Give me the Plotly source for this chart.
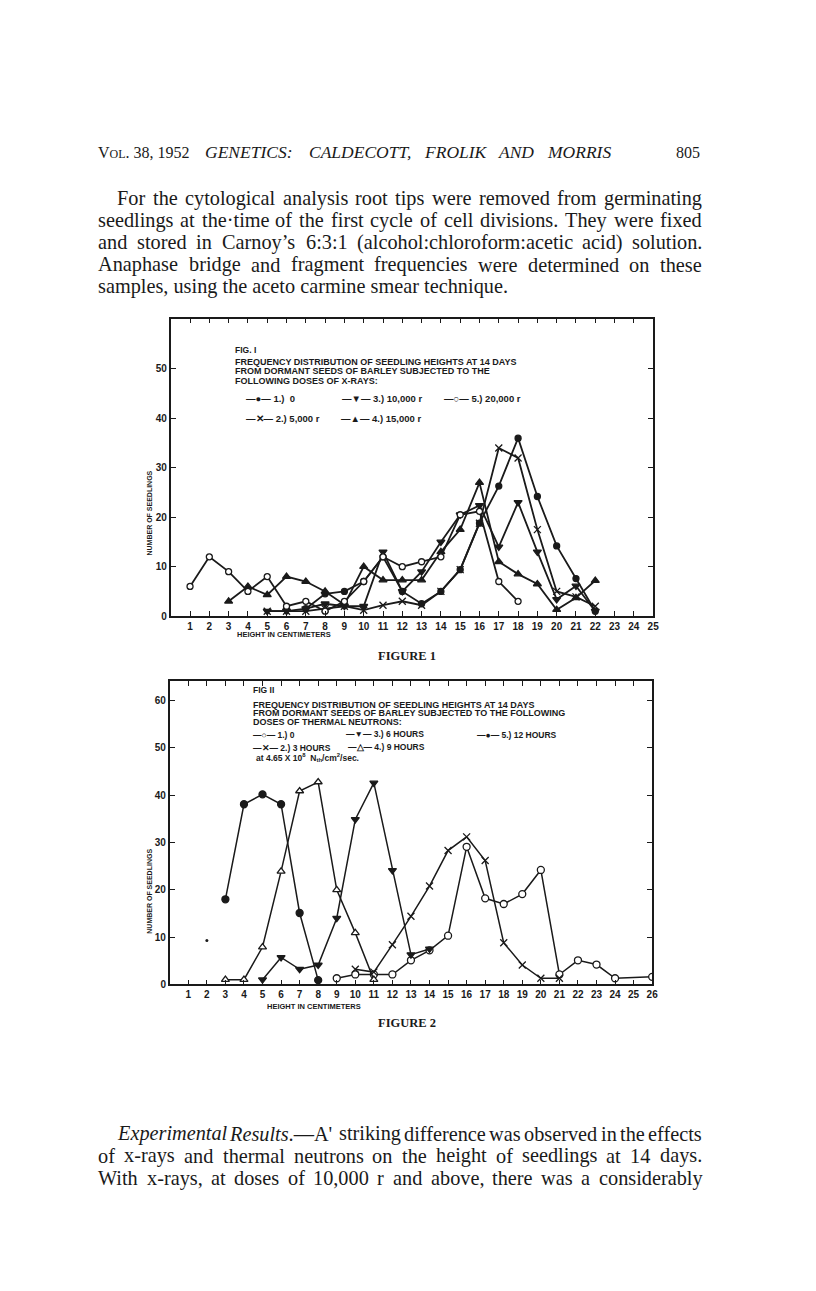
import plotly.graph_objects as go

# ---------------- Figure 1 data (x-rays) ----------------
f1_x_s1 = [7, 8, 9, 10, 11, 12, 13, 14, 15, 16, 17, 18, 19, 20, 21, 22]
f1_y_s1 = [1.5, 4.5, 5, 7, 12, 5, 2.5, 5, 9.4, 18.8, 26.3, 36, 24.2, 14.2, 7.6, 1]
f1_x_s2 = [5, 6, 7, 8, 9, 10, 11, 12, 13, 14, 15, 16, 17, 18, 19, 20, 21, 22]
f1_y_s2 = [1, 1, 1, 1.5, 2, 1.2, 2.2, 3, 2.2, 5, 9.4, 18.8, 34, 32, 17.5, 5, 3.9, 2]
f1_x_s3 = [5, 6, 7, 8, 9, 10, 11, 12, 13, 14, 15, 16, 17, 18, 19, 20, 21, 22]
f1_y_s3 = [1, 1, 1.5, 2.5, 2, 2, 13, 5, 9, 15, 20.5, 22.4, 14, 23, 13, 3.4, 6.1, 1]
f1_x_s4 = [3, 4, 5, 6, 7, 8, 9, 10, 11, 12, 13, 14, 15, 16, 17, 18, 19, 20, 21, 22]
f1_y_s4 = [3, 6, 4.3, 8, 7, 5, 2.3, 10, 7.3, 7.3, 7.3, 13, 17.5, 27, 11, 8.5, 6.5, 1.3, 3.7, 7.2]
f1_x_s5 = [1, 2, 3, 4, 5, 6, 7, 8, 9, 10, 11, 12, 13, 14, 15, 16, 17, 18]
f1_y_s5 = [6, 12, 9, 5, 8, 2, 3, 1, 3, 7, 12, 10, 11, 12, 20.5, 21.2, 7, 3]

# ---------------- Figure 2 data (thermal neutrons) ----------------
f2_x_s1 = [9, 10, 11, 12, 13, 14, 15, 16, 17, 18, 19, 20, 21, 22, 23, 24, 26]
f2_y_s1 = [1.3, 2.1, 2.1, 2.1, 5.1, 7.2, 10.3, 29.1, 18.2, 17, 19.1, 24.2, 2.1, 5.1, 4.2, 1.3, 1.6]
f2_x_s2 = [10, 11, 12, 13, 14, 15, 16, 17, 18, 19, 20, 21]
f2_y_s2 = [3.2, 2.6, 8.4, 14.4, 20.8, 28.3, 31.2, 26.2, 8.8, 4.1, 1.3, 1.3]
f2_x_s3 = [5, 6, 7, 8, 9, 10, 11, 12, 13, 14]
f2_y_s3 = [1.0, 5.7, 3.2, 4.1, 14.0, 34.9, 42.6, 24.1, 6.3, 7.5]
f2_x_s4 = [3, 4, 5, 6, 7, 8, 9, 10, 11]
f2_y_s4 = [1.0, 1.0, 7.9, 23.9, 40.9, 42.8, 20.0, 10.9, 1.0]
f2_x_s5 = [3, 4, 5, 6, 7, 8]
f2_y_s5 = [18.0, 38.1, 40.2, 38.1, 15.1, 0.9]
f2_x_dot = [2]
f2_y_dot = [9.3]

f1_ticks = list(range(1, 26))
f2_ticks = list(range(1, 27))
y1_ticks = [0, 10, 20, 30, 40, 50]
y2_ticks = [0, 10, 20, 30, 40, 50, 60]

W, H = 816, 1291
# plot-area pixel boxes [left, top, right, bottom]
P1 = (172, 320, 658, 619)
P2 = (171, 684, 657, 989)


def dom(box):
    l, t, r, b = box
    return [l / W, r / W], [1 - b / H, 1 - t / H]


fig = go.Figure()

BLK = "#1a1a1a"
TICKF = dict(family="Liberation Sans, Arial", size=10, color=BLK, weight="bold")


def add(xs, ys, sym, xa, ya, size=6, fill=True, lw=1.8):
    fig.add_trace(go.Scatter(
        x=xs, y=ys, mode="lines+markers", xaxis=xa, yaxis=ya,
        line=dict(color=BLK, width=lw),
        marker=dict(symbol=sym, size=size,
                    color=BLK if fill else "white",
                    line=dict(color=BLK, width=1.3)),
        showlegend=False, hoverinfo="skip"))


add(f1_x_s1, f1_y_s1, "circle", "x", "y", 6)
add(f1_x_s2, f1_y_s2, "x-thin-open", "x", "y", 7)
add(f1_x_s3, f1_y_s3, "triangle-down", "x", "y", 7)
add(f1_x_s4, f1_y_s4, "triangle-up", "x", "y", 7)
add(f1_x_s5, f1_y_s5, "circle", "x", "y", 6, fill=False)

add(f2_x_s1, f2_y_s1, "circle", "x2", "y2", 7, fill=False, lw=1.5)
add(f2_x_s2, f2_y_s2, "x-thin-open", "x2", "y2", 7, lw=1.5)
add(f2_x_s3, f2_y_s3, "triangle-down", "x2", "y2", 7, lw=1.5)
add(f2_x_s4, f2_y_s4, "triangle-up", "x2", "y2", 7, fill=False, lw=1.5)
add(f2_x_s5, f2_y_s5, "circle", "x2", "y2", 7, lw=1.5)
fig.add_trace(go.Scatter(x=f2_x_dot, y=f2_y_dot, mode="markers", xaxis="x2", yaxis="y2",
                         marker=dict(size=3, color=BLK), showlegend=False, hoverinfo="skip"))

xd1, yd1 = dom(P1)
xd2, yd2 = dom(P2)
axcommon = dict(showgrid=False, zeroline=False, showline=True, linecolor=BLK, linewidth=1.6,
                mirror="allticks", ticks="inside", ticklen=5, tickwidth=1.4, tickcolor=BLK,
                tickfont=TICKF)
fig.update_layout(
    width=W, height=H, margin=dict(l=0, r=0, t=0, b=0),
    paper_bgcolor="white", plot_bgcolor="white",
    xaxis=dict(domain=xd1, range=[0, 25.0], tickvals=f1_ticks, anchor="y", **axcommon),
    yaxis=dict(domain=yd1, range=[0, 60.2], tickvals=y1_ticks, anchor="x", **axcommon),
    xaxis2=dict(domain=xd2, range=[0, 26.0], tickvals=f2_ticks, anchor="y2", **axcommon),
    yaxis2=dict(domain=yd2, range=[0, 64.2], tickvals=y2_ticks, anchor="x2", **axcommon),
)

ann = []
SERIF = "Liberation Serif, Times New Roman, serif"
SANS = "Liberation Sans, Arial, sans-serif"


def txt(x, y, s, size=12, fam=SERIF, xa="left", color=BLK, ya="middle", angle=0):
    ann.append(dict(x=x / W, y=1 - y / H, xref="paper", yref="paper", text=s, showarrow=False,
                    xanchor=xa, yanchor=ya, font=dict(size=size, family=fam, color=color),
                    textangle=angle, borderpad=0))


# Times-like advance widths (per 1000 em) for justification
CW = dict(zip("abcdefghijklmnopqrstuvwxyz",
              [444, 500, 444, 500, 444, 333, 500, 500, 278, 278, 500, 278, 778, 500, 500, 500,
               500, 333, 389, 278, 500, 500, 722, 500, 500, 444]))
CW.update(zip("ABCDEFGHIJKLMNOPQRSTUVWXYZ",
              [722, 667, 667, 722, 611, 556, 722, 722, 333, 389, 722, 611, 889, 722, 722, 556,
               722, 667, 556, 611, 722, 722, 944, 722, 722, 611]))
CW.update({c: 500 for c in "0123456789"})
CW.update({".": 250, ",": 250, ":": 278, ";": 278, "(": 333, ")": 333, "'": 333, "’": 333,
           "-": 333, "—": 1000, "·": 250, " ": 250})


def wid(s, size):
    return sum(CW.get(c, 500) for c in s) * size / 1000.0


def justify(y, line, x0, x1, size, italic=()):
    words = line.split(" ")
    ws = [wid(w, size) for w in words]
    gap = (x1 - x0 - sum(ws)) / (len(words) - 1)
    x = x0
    for w, ww in zip(words, ws):
        disp = w
        for it in italic:
            if w.startswith(it):
                disp = "<i>%s</i>%s" % (it, w[len(it):])
        txt(x, y, disp, size)
        x += ww + gap


BODY = 20.3
# header
txt(98, 153, "V<span style='font-size:12px'>OL</span>. 38, 1952", 16)
for w, xw in [("GENETICS:", 206), ("CALDECOTT,", 310), ("FROLIK", 426), ("AND", 501), ("MORRIS", 550)]:
    txt(xw, 153, "<i>%s</i>" % w, 17.5)
txt(706, 153, "805", 16, xa="right")

body1 = [
    ("For the cytological analysis root tips were removed from germinating", 117, True),
    ("seedlings at the·time of the first cycle of cell divisions.  They were fixed", 98, True),
    ("and stored in Carnoy’s 6:3:1 (alcohol:chloroform:acetic acid) solution.", 98, True),
    ("Anaphase bridge and fragment frequencies were determined on these", 98, True),
    ("samples, using the aceto carmine smear technique.", 98, False),
]
for i, (s, x0, j) in enumerate(body1):
    yy = 199 + 22.3 * i
    if j:
        justify(yy, s.replace("  ", " "), x0, 706, BODY)
    else:
        txt(x0, yy, s, BODY)

body2 = [
    ("Experimental Results.—A' striking difference was observed in the effects", 117),
    ("of x-rays and thermal neutrons on the height of seedlings at 14 days.", 98),
    ("With x-rays, at doses of 10,000 r and above, there was a considerably", 98),
]
for i, (s, x0) in enumerate(body2):
    justify(1139 + 22.3 * i, s, x0, 706, BODY, italic=("Experimental", "Results"))

# Figure 1 inner texts
B = "<b>%s</b>"
txt(236, 352, B % "FIG. I", 8.5, SANS)
txt(236, 364, B % "FREQUENCY DISTRIBUTION OF SEEDLING HEIGHTS AT 14 DAYS", 9, SANS)
txt(236, 373, B % "FROM DORMANT SEEDS OF BARLEY SUBJECTED TO THE", 9, SANS)
txt(236, 382.5, B % "FOLLOWING DOSES OF X-RAYS:", 9, SANS)
txt(247, 400, B % "—●— 1.)  0", 9.5, SANS)
txt(247, 420, B % "—✕— 2.) 5,000 r", 9.5, SANS)
txt(344, 400, B % "—▼— 3.) 10,000 r", 9.5, SANS)
txt(343, 420, B % "—▲— 4.) 15,000 r", 9.5, SANS)
txt(446, 400, B % "—○— 5.) 20,000 r", 9.5, SANS)
txt(151, 515, B % "NUMBER OF SEEDLINGS", 7, SANS, xa="center", angle=-90)
txt(238, 637, B % "HEIGHT IN CENTIMETERS", 7.5, SANS)
txt(410, 659, "<b>FIGURE 1</b>", 12.5, SERIF, xa="center")

# Figure 2 inner texts
txt(254, 693, B % "FIG II", 8.5, SANS)
txt(254, 708, B % "FREQUENCY DISTRIBUTION OF SEEDLING HEIGHTS AT 14 DAYS", 9, SANS)
txt(254, 716.5, B % "FROM DORMANT SEEDS OF BARLEY SUBJECTED TO THE FOLLOWING", 9, SANS)
txt(254, 725, B % "DOSES OF THERMAL NEUTRONS:", 9, SANS)
txt(254, 738, B % "—○— 1.) 0", 8.5, SANS)
txt(254, 751, B % "—✕— 2.) 3 HOURS", 8.5, SANS)
txt(348, 737, B % "—▼— 3.) 6 HOURS", 8.5, SANS)
txt(350, 750, B % "—△— 4.) 9 HOURS", 8.5, SANS)
txt(480, 738, B % "—●— 5.) 12 HOURS", 8.5, SANS)
txt(257, 761, B % "at 4.65 X 10<sup>8</sup>  N<sub>th</sub>/cm<sup>2</sup>/sec.", 8.5, SANS)
txt(151, 895, B % "NUMBER OF SEEDLINGS", 7, SANS, xa="center", angle=-90)
txt(268, 1011, B % "HEIGHT IN CENTIMETERS", 7.5, SANS)
txt(410, 1028, "<b>FIGURE 2</b>", 12.5, SERIF, xa="center")

fig.update_layout(annotations=ann)
fig.write_html("out.html", config={"displayModeBar": False},
               post_script="document.body.style.margin='0px';")
